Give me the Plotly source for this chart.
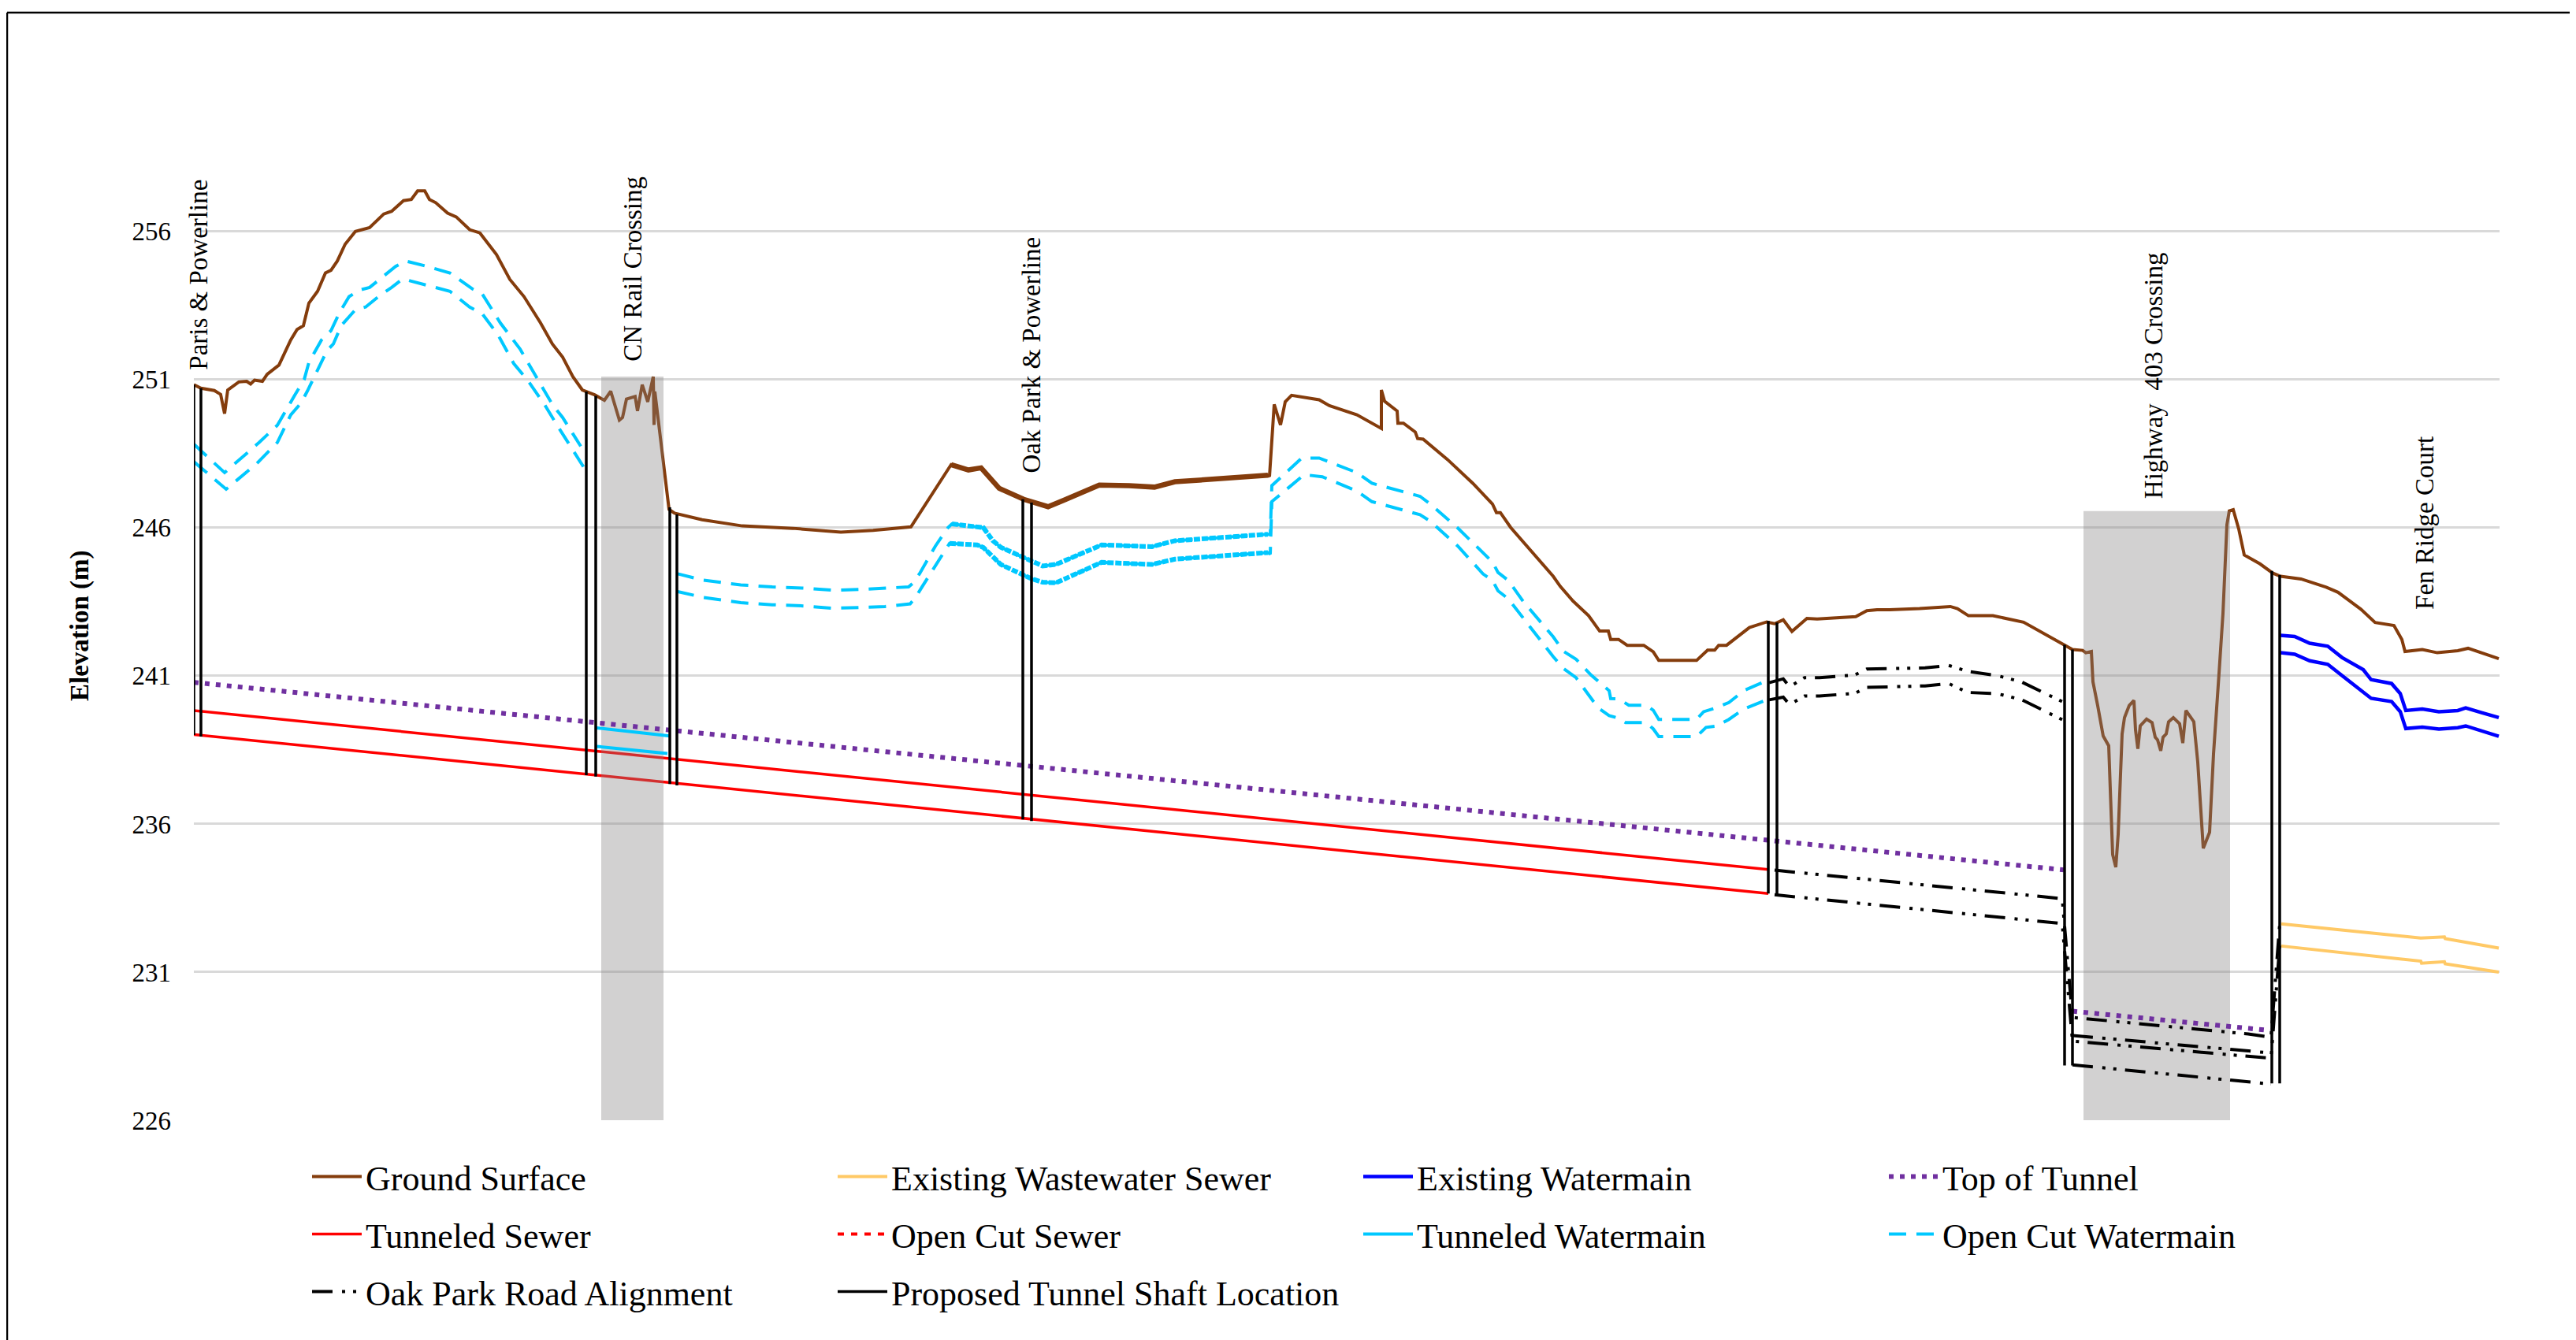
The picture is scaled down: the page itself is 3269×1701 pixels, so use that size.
import plotly.graph_objects as go

# Chainage is in arbitrary along-route units; elevations in metres.
ground_x = [246,255,272,280,285,289,303,313,318,323,333,339,354,369,377,385,392,403,413,420,428,438,451,469,487,497,512,522,530,539,545,553,568,579,596,609,630,647,665,686,701,714,727,739,755,767,775,779,786,790,795,806,809,815,822,829,830,831,836,849,
            856,891,942,1006,1067,1108,1156,1207,1229,1245,1268,1299,1330,1350,1395,1433,1465,1491,1542,1609,1611,1617,1625,1631,1639,1674,1687,1722,1753,1753,1757,1773,1774,1781,1796,1799,1806,1837,1869,1894,1899,1904,1917,1933,1971,1980,1996,2016,2030,2041,2044,2054,2065,2086,2098,2105,2153,2167,2176,2181,2191,2220,2242,2252,2263,2274,2293,2306,2355,2369,2382,2398,2436,2475,2484,2498,2529,
            2568,2620,2630,2643,2647,2654,2656,2662,2669,2676,2678,2681,2685,2688,2693,2696,2702,2708,2710,2713,2716,2724,2731,2735,2738,2742,2745,2749,2752,2758,2766,2770,2774,2784,2789,2793,2796,2804,2809,2816,2821,2826,2829,2834,2841,2848,2868,2884,2894,2920,2952,2967,2996,3014,3038,3048,3052,3074,3093,3119,3132,3171]
ground_y = [250.83,250.71,250.63,250.50,249.85,250.65,250.92,250.94,250.85,250.98,250.94,251.18,251.49,252.34,252.69,252.82,253.58,253.98,254.60,254.69,255.0,255.57,256.0,256.13,256.59,256.68,257.04,257.08,257.37,257.37,257.08,256.97,256.62,256.49,256.06,255.95,255.22,254.38,253.8,252.91,252.2,251.76,251.1,250.65,250.48,250.3,250.61,250.25,249.63,249.72,250.34,250.43,249.94,250.83,250.25,251.1,249.47,250.6,249.46,246.62,
            246.49,246.27,246.06,245.98,245.85,245.91,246.03,248.13,247.95,248.02,247.33,246.96,246.71,246.93,247.44,247.42,247.37,247.55,247.64,247.77,247.73,250.16,249.47,250.25,250.47,250.32,250.12,249.81,249.35,250.65,250.27,249.94,249.53,249.53,249.23,249.01,248.99,248.3,247.5,246.8,246.51,246.51,246.01,245.51,244.36,244.02,243.53,243.03,242.51,242.51,242.23,242.23,242.03,242.03,241.81,241.52,241.52,241.87,241.87,242.03,242.03,242.63,242.82,242.76,242.89,242.5,242.94,242.92,243.0,243.2,243.23,243.23,243.27,243.34,243.27,243.03,243.03,
            242.81,242.05,241.89,241.86,241.78,241.82,240.8,240.0,238.97,238.64,237.0,234.97,234.54,235.65,239.04,239.59,240.0,240.17,239.18,238.54,239.31,239.54,239.42,238.93,238.84,238.47,238.93,239.04,239.45,239.59,239.38,238.73,239.83,239.45,238.09,236.19,235.18,235.72,238.36,241.08,243.11,246.1,246.57,246.61,245.96,245.08,244.78,244.47,244.36,244.27,243.99,243.82,243.25,242.8,242.7,242.23,241.82,241.89,241.78,241.85,241.93,241.58]

wastewater_x = [2895,3072,3102,3103,3171]
wastewater_top = [232.63,232.15,232.19,232.13,231.81]
wastewater_x2 = [2895,3072,3073,3102,3103,3171]
wastewater_bottom = [231.88,231.37,231.3,231.35,231.28,231.0]

watermain_x = [2894,2912,2931,2954,2972,2999,3009,3035,3046,3053,3074,3095,3119,3129,3150,3171]
watermain_top = [242.37,242.33,242.1,242.0,241.62,241.21,240.87,240.74,240.4,239.83,239.88,239.79,239.83,239.92,239.75,239.59]
watermain_bottom = [241.78,241.73,241.51,241.39,241.01,240.47,240.24,240.13,239.79,239.22,239.27,239.2,239.25,239.31,239.14,238.96]

tunnel_top_x = [246,2619,None,2630,2881]
tunnel_top_y = [240.78,234.45,None,229.68,229.03]

sewer_x = [246,2244]
sewer_top = [239.83,234.46]
sewer_bottom = [239.02,233.65]

tunneled_wm_x = [755,850,None,757,847]
tunneled_wm_y = [239.25,238.97,None,238.62,238.38]

opencut_top_x = [246,285,329,352,374,386,392,408,420,431,443,456,469,487,502,515,538,571,599,612,635,660,681,701,714,737,None,
                 859,892,940,980,1020,1057,1093,1123,1153,1159,1167,1187,1203,1208,1240,1248,1260,1270,1307,1323,1340,1398,1462,1491,1609,1612,1614,1652,1674,1722,1741,1802,1815,1850,1894,1901,1914,1933,1971,1984,2000,2019,2042,2044,2054,2067,2089,2098,2105,2153,2162,2178,2194,2213,2242]
opencut_top_y = [248.82,247.86,248.88,249.46,250.47,251.0,251.58,252.34,252.65,253.27,253.8,254.02,254.11,254.51,254.82,255.0,254.85,254.6,254.07,253.89,252.91,252.03,251.05,250.16,249.72,248.75,None,
                 244.45,244.23,244.07,244.0,243.96,243.89,243.92,243.96,244.0,244.14,244.45,245.38,246.0,246.13,246.04,246.0,245.56,245.34,244.9,244.71,244.76,245.42,245.36,245.56,245.78,245.78,247.42,248.35,248.35,247.86,247.5,247.06,246.8,245.99,244.84,244.49,244.22,243.51,242.32,241.83,241.56,241.03,240.5,240.23,240.22,240.01,240.01,239.84,239.53,239.53,239.79,239.92,240.1,240.5,240.84]
opencut_bottom_x = [246,287,326,352,369,382,390,403,415,423,433,451,464,482,497,511,538,571,596,612,632,652,670,691,706,727,742,None,
                    859,892,940,980,1020,1057,1093,1123,1155,1162,1170,1197,1205,1240,1248,1270,1307,1323,1340,1398,1462,1491,1609,1612,1614,1655,1678,1722,1741,1802,1815,1850,1882,1894,1901,1914,1933,1971,1984,2000,2028,2042,2054,2063,2089,2098,2105,2153,2165,2178,2194,2213,2242]
opencut_bottom_y = [248.23,247.3,248.17,248.88,249.81,250.21,250.61,251.32,251.98,252.2,252.82,253.36,253.45,253.84,254.11,254.4,254.2,253.98,253.45,253.22,252.51,251.54,250.96,250.16,249.5,248.61,247.99,None,
                    243.85,243.65,243.47,243.4,243.36,243.28,243.31,243.34,243.43,243.65,244.0,245.16,245.47,245.42,245.33,244.76,244.3,244.16,244.14,244.83,244.76,244.94,245.16,245.11,246.88,247.79,247.72,247.24,246.88,246.44,246.22,245.38,244.44,244.22,243.87,243.6,242.94,241.65,241.25,240.94,239.92,239.66,239.57,239.42,239.42,239.21,238.95,238.95,239.26,239.3,239.53,239.88,240.19]

oak_top_x = [2245,2263,2271,2290,2309,2354,2369,2405,2443,2473,2497,2534,2565,2617]
oak_top_y = [240.77,240.9,240.63,240.94,240.94,241.03,241.23,241.25,241.27,241.35,241.15,241.01,240.8,240.13]
oak_bottom_y = [240.19,240.28,240.03,240.32,240.32,240.41,240.61,240.63,240.66,240.74,240.44,240.4,240.2,239.52]
oak_a_x = [2252,2617,2630,2853,2882,2893]
oak_a_y = [234.44,233.48,229.47,228.91,228.8,232.63]
oak_b_y = [233.61,232.64,228.67,228.15,228.09,231.9]
oak_c_x = [2630,2853,2882]
oak_c_y = [228.86,228.34,228.27]
oak_d_y = [227.87,227.31,227.22]

shaft_x = [246,255,744,756,850,859,1298,1309,2244,2255,2620,2630,2883,2893]
shaft_top = [250.83,250.71,250.6,250.45,246.69,246.45,246.96,246.85,242.85,242.8,242.05,241.89,244.54,244.4]
shaft_bottom = [239.0,238.95,237.65,237.6,237.35,237.3,236.15,236.1,233.65,233.6,227.85,227.85,227.24,227.24]

crossing_left = [763,2644]
crossing_right = [842,2830]
crossing_top = [251.1,246.56]
base_elev = 226

label_text = ["Paris &\u00a0Powerline","CN Rail Crossing","Oak Park &\u00a0Powerline","Highway\u00a0\u00a0403 Crossing","Fen Ridge Court"]
label_x = [252,803,1309,2733,3077]
label_y = [251.27,251.55,247.79,246.91,243.18]

y_ticks = [226,231,236,241,246,251,256]

FONT = "Liberation Serif"
BROWN, YELLOW, BLUE, PURPLE, RED, CYAN, BLACK = "#843C0C","#FFC966","#0000FF","#7030A0","#FF0000","#00C8FF","#000000"
OAK_DASH = "26px,12px,4px,10px,4px,11px"
WM_DASH = "22px,13px"

def join(*parts):
    xs, ys = [], []
    for i, (a, b) in enumerate(parts):
        if i:
            xs.append(None); ys.append(None)
        xs += list(a); ys += list(b)
    return xs, ys

def band(x, y, lo, hi):
    pairs = [(a, b) for a, b in zip(x, y) if a is not None and lo <= a <= hi]
    return [p[0] for p in pairs], [p[1] for p in pairs]

fig = go.Figure()

def line(x, y, name, color, width, dash="solid", legend="legend", show=True):
    fig.add_trace(go.Scatter(x=x, y=y, name=name, mode="lines", legend=legend, showlegend=show,
                             line=dict(color=color, width=width, dash=dash), hoverinfo="skip"))

# ground and tunnel sewer sit beneath the translucent crossing bands
line(ground_x, ground_y, "Ground Surface", BROWN, 4)
gx, gy = band(ground_x, ground_y, 1207, 1609)
line(gx, gy, "Ground Surface", BROWN, 6.5, show=False)
sx, sy = join((sewer_x, sewer_top), (sewer_x, sewer_bottom))
line(sx, sy, "Tunneled Sewer", RED, 3.5, legend="legend2")

for l, r, t in zip(crossing_left, crossing_right, crossing_top):
    fig.add_trace(go.Scatter(x=[l, l, r, r, l], y=[base_elev, t, t, base_elev, base_elev], mode="lines",
                             fill="toself", fillcolor="rgba(131,129,130,0.365)", line=dict(width=0),
                             showlegend=False, hoverinfo="skip"))

wx, wy = join((wastewater_x, wastewater_top), (wastewater_x2, wastewater_bottom))
line(wx, wy, "Existing Wastewater Sewer", YELLOW, 4)
bx, by = join((watermain_x, watermain_top), (watermain_x, watermain_bottom))
line(bx, by, "Existing Watermain", BLUE, 4.5)
line(tunnel_top_x, tunnel_top_y, "Top of Tunnel", PURPLE, 6, dash="6px,8px")

line([246], [None], "Open Cut Sewer", RED, 4, dash="8px,9px", legend="legend2")
line(tunneled_wm_x, tunneled_wm_y, "Tunneled Watermain", CYAN, 4, legend="legend2")
ox, oy = join((opencut_top_x, opencut_top_y), (opencut_bottom_x, opencut_bottom_y))
line(ox, oy, "Open Cut Watermain", CYAN, 4, dash=WM_DASH, legend="legend2")
for xs, ys in [(opencut_top_x, opencut_top_y), (opencut_bottom_x, opencut_bottom_y)]:
    jx, jy = band(xs, ys, 1205, 1610)
    line(jx, jy, "Open Cut Watermain", CYAN, 6, dash="8px,2px", show=False)

ax, ay = join((oak_top_x, oak_top_y), (oak_top_x, oak_bottom_y), (oak_a_x, oak_a_y), (oak_a_x, oak_b_y),
              (oak_c_x, oak_c_y), (oak_c_x, oak_d_y))
line(ax, ay, "Oak Park Road Alignment", BLACK, 4, dash=OAK_DASH, legend="legend3")

hx, hy = [], []
for x, t, b in zip(shaft_x, shaft_top, shaft_bottom):
    hx += [x, x, None]; hy += [t, b, None]
line(hx, hy, "Proposed Tunnel Shaft Location", BLACK, 3.5, legend="legend3")

for t, x, y in zip(label_text, label_x, label_y):
    fig.add_annotation(text=t, x=x, y=y, xref="x", yref="y", textangle=-90, showarrow=False,
                       xanchor="center", yanchor="bottom", font=dict(family=FONT, size=33, color="#000000"))

OFF = 8  # the page body adds this margin before the figure
W, H = 3269 - OFF, 1701 - OFF
L, R, T, B = 246 - OFF, 97, 181 - OFF, 279
PW, PH = W - L - R, H - T - B
def px(v): return (v - OFF - L) / PW
def py(v): return (H - B - (v - OFF)) / PH

fig.add_annotation(text="Elevation (m)", x=px(101), y=py(794), xref="paper", yref="paper", textangle=-90,
                   showarrow=False, xanchor="center", yanchor="middle",
                   font=dict(family=FONT, size=33, color="#000000", weight="bold"))

# picture frame: top and left edges only
fig.add_shape(type="line", xref="paper", yref="paper", x0=px(9), x1=px(3275), y0=py(16), y1=py(16),
              line=dict(color="#000000", width=2.5))
fig.add_shape(type="line", xref="paper", yref="paper", x0=px(9), x1=px(9), y0=py(16), y1=py(1706),
              line=dict(color="#000000", width=2.5))

def legend_cfg(row_y):
    return dict(orientation="h", x=px(391), y=py(row_y), xanchor="left", yanchor="middle",
                entrywidth=589, entrywidthmode="pixels", itemwidth=63, bgcolor="rgba(0,0,0,0)",
                font=dict(family=FONT, size=44, color="#000000"), traceorder="normal")

fig.update_layout(
    width=W, height=H, autosize=False, paper_bgcolor="#FFFFFF", plot_bgcolor="#FFFFFF",
    margin=dict(l=L, r=R, t=T, b=B, pad=0), showlegend=True,
    legend=legend_cfg(1494), legend2=legend_cfg(1567), legend3=legend_cfg(1640),
    xaxis=dict(range=[246, 3172], visible=False, showgrid=False, zeroline=False, fixedrange=True),
    yaxis=dict(range=[226, 259], tickmode="array", tickvals=y_ticks, ticktext=[str(v) for v in y_ticks],
               showgrid=True, gridcolor="#D9D9D9", gridwidth=2.5, zeroline=False, showline=False,
               ticks="", ticklabelstandoff=28, fixedrange=True,
               tickfont=dict(family=FONT, size=33, color="#000000")),
)
fig.write_html("out.html")
